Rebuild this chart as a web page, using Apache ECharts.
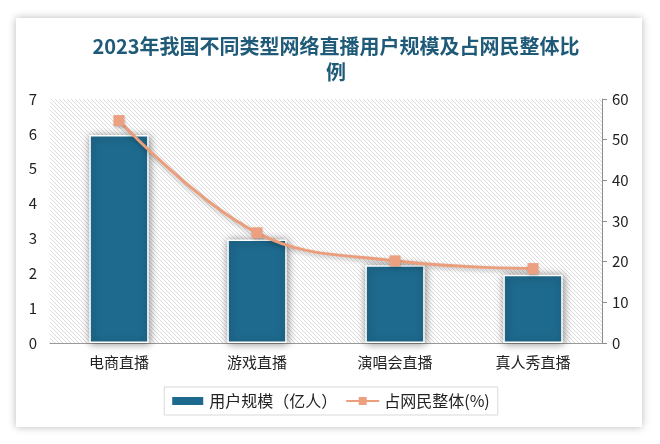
<!DOCTYPE html>
<html>
<head>
<meta charset="utf-8">
<script src="https://cdn.jsdelivr.net/npm/echarts@6/dist/echarts.min.js"></script>
<style>
html,body{margin:0;padding:0;background:#fff;}
#card{position:absolute;left:16px;top:18px;width:626px;height:409px;background:#fff;box-shadow:0 0 8px rgba(0,0,0,0.28);}
#chart{position:absolute;left:0;top:0;width:660px;height:444px;}
</style>
</head>
<body>
<div id="card"></div>
<div id="chart"></div>
<script>
const categories = ['电商直播', '游戏直播', '演唱会直播', '真人秀直播'];
const userScale = [5.97, 2.97, 2.23, 1.96];
const sharePct = [54.7, 27.1, 20.2, 18.3];
const leftTicks = {min: 0, max: 7, interval: 1};
const rightTicks = {min: 0, max: 60, interval: 10};

const tile = document.createElement('canvas');
tile.width = 4; tile.height = 4;
const ctx = tile.getContext('2d');
ctx.fillStyle = '#ffffff';
ctx.fillRect(0, 0, 4, 4);
ctx.strokeStyle = '#dcdcdc';
ctx.lineWidth = 1;
for (let k = -1; k <= 1; k++) {
  ctx.beginPath();
  ctx.moveTo(k * 4 - 0.5, -0.5);
  ctx.lineTo(k * 4 + 4.5, 4.5);
  ctx.stroke();
}

const chart = echarts.init(document.getElementById('chart'), null, {renderer: 'canvas'});
const font = "'Noto Sans CJK SC', 'Noto Sans', sans-serif";
chart.setOption({
  backgroundColor: 'transparent',
  animation: false,
  title: {
    text: '2023年我国不同类型网络直播用户规模及占网民整体比\n例',
    left: 331,
    top: 28,
    textAlign: 'center',
    textStyle: {fontSize: 20, lineHeight: 26, color: '#1f5a78', fontWeight: 'bold', fontFamily: font}
  },
  grid: {
    left: 50, right: 58, top: 99, bottom: 101,
    show: true,
    backgroundColor: {image: tile, repeat: 'repeat'},
    borderWidth: 0
  },
  legend: {
    top: 387,
    left: 'center',
    borderColor: '#d9d9d9',
    borderWidth: 1,
    padding: [6, 8, 6, 6],
    itemGap: 8,
    itemWidth: 33,
    itemHeight: 10,
    textStyle: {fontSize: 16, color: '#222', fontFamily: font},
    data: [
      {name: '用户规模（亿人）', icon: 'rect'},
      {name: '占网民整体(%)'}
    ]
  },
  xAxis: {
    type: 'category',
    data: categories,
    axisLine: {show: true, lineStyle: {color: '#9a9a9a', width: 1}},
    axisTick: {show: false},
    axisLabel: {fontSize: 15, color: '#222', margin: 12, fontFamily: font}
  },
  yAxis: [
    {
      type: 'value',
      min: leftTicks.min, max: leftTicks.max, interval: leftTicks.interval,
      splitLine: {show: false},
      axisLine: {show: false},
      axisTick: {show: false},
      axisLabel: {fontSize: 15, color: '#222', margin: 13, fontFamily: font}
    },
    {
      type: 'value',
      position: 'right',
      min: rightTicks.min, max: rightTicks.max, interval: rightTicks.interval,
      splitLine: {show: false},
      axisLine: {show: true, lineStyle: {color: '#8c8c8c', width: 1}},
      axisTick: {show: true, length: 5, lineStyle: {color: '#8c8c8c'}},
      axisLabel: {fontSize: 15, color: '#222', margin: 10, fontFamily: font}
    }
  ],
  series: [
    {
      name: '用户规模（亿人）',
      type: 'bar',
      data: userScale,
      yAxisIndex: 0,
      barWidth: '43%',
      itemStyle: {
        color: '#1e6a8e',
        borderColor: '#ffffff',
        borderWidth: 1.5,
        shadowColor: 'rgba(0,0,0,0.45)',
        shadowBlur: 8,
        shadowOffsetX: 1,
        shadowOffsetY: 1
      }
    },
    {
      name: '占网民整体(%)',
      type: 'line',
      data: sharePct,
      yAxisIndex: 1,
      smooth: 0.4,
      symbol: 'rect',
      symbolSize: 11,
      lineStyle: {
        color: '#eb9e7c', width: 3,
        shadowColor: 'rgba(0,0,0,0.25)', shadowBlur: 4, shadowOffsetY: 2
      },
      itemStyle: {color: '#eda07f', shadowColor: 'rgba(0,0,0,0.25)', shadowBlur: 3, shadowOffsetY: 2}
    }
  ]
});
</script>
</body>
</html>
